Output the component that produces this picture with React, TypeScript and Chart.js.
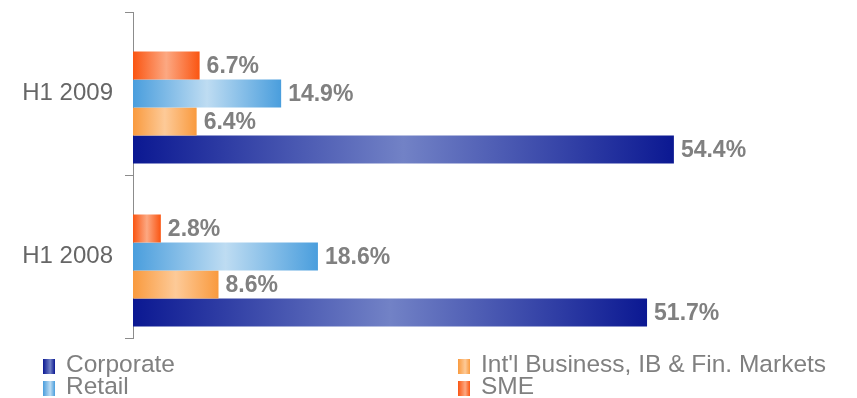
import React, { useEffect, useRef } from "react";
import { Chart, registerables } from "chart.js";

Chart.register(...registerables);

const categories = ["H1 2009", "H1 2008"];
const corporate = [54.4, 51.7];
const intlBusiness = [6.4, 8.6];
const retail = [14.9, 18.6];
const sme = [6.7, 2.8];

const seriesNames = ["Corporate", "Int'l Business, IB & Fin. Markets", "Retail", "SME"];

const COLORS: Record<string, [string, string]> = {
  Corporate: ["#0b1892", "#7282c6"],
  "Int'l Business, IB & Fin. Markets": ["#f99a3e", "#fdca98"],
  Retail: ["#4a9edd", "#bedcf2"],
  SME: ["#fa5512", "#fca882"],
};

function gradientFill(name: string) {
  const [edge, mid] = COLORS[name];
  return (ctx: any) => {
    const chart = ctx.chart;
    if (ctx.type !== "data" || !chart.chartArea || ctx.raw == null) return edge;
    const xs = chart.scales.x;
    const x0 = xs.getPixelForValue(0);
    const x1 = xs.getPixelForValue(ctx.raw);
    if (!isFinite(x0) || !isFinite(x1) || x1 - x0 < 1) return edge;
    const g = chart.ctx.createLinearGradient(x0, 0, x1, 0);
    g.addColorStop(0, edge);
    g.addColorStop(0.5, mid);
    g.addColorStop(1, edge);
    return g;
  };
}

const valueLabels = {
  id: "valueLabels",
  afterDatasetsDraw(chart: any) {
    const c = chart.ctx;
    c.save();
    c.font = "bold 23px 'Liberation Sans', Arial, sans-serif";
    c.fillStyle = "#808080";
    c.textAlign = "left";
    c.textBaseline = "middle";
    chart.data.datasets.forEach((ds: any, i: number) => {
      if (!ds.label) return;
      const meta = chart.getDatasetMeta(i);
      meta.data.forEach((el: any, j: number) => {
        const v = ds.data[j];
        if (v == null) return;
        c.fillText(v.toFixed(1) + "%", el.x + 7, el.y + 1);
      });
    });
    c.restore();
  },
};

const legendItems = [
  { name: "Corporate", left: 43, row: 0 },
  { name: "Int'l Business, IB & Fin. Markets", left: 458, row: 0 },
  { name: "Retail", left: 43, row: 1 },
  { name: "SME", left: 458, row: 1 },
];

export default function App() {
  const ref = useRef<HTMLCanvasElement>(null);

  useEffect(() => {
    if (!ref.current) return;
    const chart = new Chart(ref.current, {
      type: "bar",
      data: {
        labels: categories,
        datasets: [
          { label: "", data: [null, null] as any, backgroundColor: "transparent" },
          { label: seriesNames[3], data: sme, backgroundColor: gradientFill(seriesNames[3]) as any },
          { label: seriesNames[2], data: retail, backgroundColor: gradientFill(seriesNames[2]) as any },
          { label: seriesNames[1], data: intlBusiness, backgroundColor: gradientFill(seriesNames[1]) as any },
          { label: seriesNames[0], data: corporate, backgroundColor: gradientFill(seriesNames[0]) as any },
        ],
      },
      options: {
        indexAxis: "y",
        responsive: false,
        animation: false,
        layout: { padding: { top: 12, bottom: 60, right: 28, left: 0 } },
        datasets: { bar: { categoryPercentage: 0.859, barPercentage: 1 } },
        plugins: { legend: { display: false }, tooltip: { enabled: false } },
        scales: {
          x: { display: false, min: 0, max: 70 },
          y: {
            afterFit: (s: any) => {
              s.width = 133;
              s.paddingTop = 0;
              s.paddingBottom = 0;
            },
            border: { display: true, color: "#8c8c8c", width: 1 },
            grid: {
              display: true,
              drawOnChartArea: false,
              drawTicks: true,
              tickLength: 8,
              color: "#8c8c8c",
              offset: true,
            },
            ticks: {
              color: "#666666",
              padding: 12,
              font: { family: "'Liberation Sans', Arial, sans-serif", size: 24 },
            },
          },
        },
      },
      plugins: [valueLabels],
    });
    return () => chart.destroy();
  }, []);

  return (
    <div style={{ position: "fixed", left: 0, top: 0, width: 857, height: 398, background: "#fff" }}>
      <canvas ref={ref} width={857} height={398} style={{ position: "absolute", left: 0, top: 0 }} />
      {legendItems.map((it) => {
        const [edge, mid] = COLORS[it.name];
        const top = it.row === 0 ? 359 : 381;
        const textTop = it.row === 0 ? 352 : 374;
        return (
          <React.Fragment key={it.name}>
            <div
              style={{
                position: "absolute",
                left: it.left,
                top,
                width: 12,
                height: 15,
                background: `linear-gradient(to right, ${edge}, ${mid} 60%, ${edge})`,
              }}
            />
            <div
              style={{
                position: "absolute",
                left: it.left + 23,
                top: textTop,
                fontFamily: "'Liberation Sans', Arial, sans-serif",
                fontSize: 24.5,
                lineHeight: "24px",
                color: "#808080",
                whiteSpace: "nowrap",
              }}
            >
              {it.name}
            </div>
          </React.Fragment>
        );
      })}
    </div>
  );
}
